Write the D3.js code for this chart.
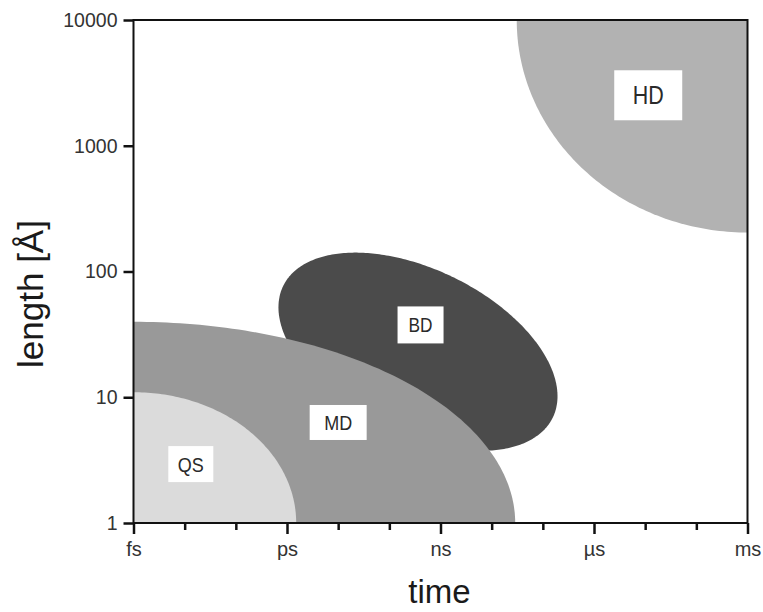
<!DOCTYPE html>
<html>
<head>
<meta charset="utf-8">
<script src="https://cdn.jsdelivr.net/npm/d3@7"></script>
<style>
  html, body { margin: 0; padding: 0; background: #fff; }
  svg { display: block; font-family: "Liberation Sans", Arial, sans-serif; }
</style>
</head>
<body>
<svg id="chart" width="763" height="612"></svg>
<script>
// ---------------- data ----------------
// x axis: time in seconds (log), y axis: length in Angstrom (log)
const timeTickValues = [1e-15, 1e-14, 1e-13, 1e-12, 1e-11, 1e-10, 1e-9, 1e-8, 1e-7, 1e-6, 1e-5, 1e-4, 1e-3];
const timeTickLabels = ["fs", "", "", "ps", "", "", "ns", "", "", "µs", "", "", "ms"];
const lengthTickValues = [1, 10, 100, 1000, 10000];
const lengthTickLabels = ["1", "10", "100", "1000", "10000"];

// simulation regions (drawn in this order: HD, BD, MD, QS)
const regionNames = ["HD", "BD", "MD", "QS"];
// ellipse centres (data units)
const regionCenterTime = [1e-3, Math.pow(10, -9.44), 1e-15, 1e-15];
const regionCenterLength = [10000, 23, 1, 1];
// ellipse semi-axis vectors in decades: major (time, length), minor (time, length)
const regionMajorTime = [4.51, 2.635, 7.46, 3.18];
const regionMajorLength = [0, -0.523, 0, 0];
const regionMinorTime = [0, -0.702, 0, 0];
const regionMinorLength = [1.69, -0.59, 1.60, 1.04];
// label anchor positions (data units)
const labelTime = [Math.pow(10, -4.94), Math.pow(10, -9.39), 1e-11, Math.pow(10, -13.88)];
const labelLength = [2520, 37.6, 6.3, 2.94];

// ---------------- styles ----------------
const regionFill = { HD: "#b2b2b2", BD: "#4b4b4b", MD: "#999999", QS: "#dbdbdb" };
const labelBox = { HD: [68, 50], BD: [46, 37], MD: [57, 35], QS: [45, 36] };
const labelFont = { HD: 25, BD: 21, MD: 21, QS: 21 };
const labelWidth = { HD: 31, BD: 24, MD: 28, QS: 26 };

// ---------------- layout ----------------
const svg = d3.select("#chart");
const plotLeft = 133.5, plotRight = 747.5, plotTop = 20, plotBottom = 523;

const x = d3.scaleLog().domain([1e-15, 1e-3]).range([plotLeft, plotRight]);
const y = d3.scaleLog().domain([1, 10000]).range([plotBottom, plotTop]);

svg.append("defs").append("clipPath").attr("id", "plotClip")
  .append("rect").attr("x", plotLeft).attr("y", plotTop)
  .attr("width", plotRight - plotLeft).attr("height", plotBottom - plotTop);

const gRegions = svg.append("g").attr("clip-path", "url(#plotClip)");

const line = d3.line().x(d => x(d[0])).y(d => y(d[1])).curve(d3.curveLinearClosed);

regionNames.forEach((name, i) => {
  const cx = Math.log10(regionCenterTime[i]);
  const cy = Math.log10(regionCenterLength[i]);
  const pts = d3.range(0, 360, 1).map(deg => {
    const t = deg * Math.PI / 180;
    const lx = cx + regionMajorTime[i] * Math.cos(t) + regionMinorTime[i] * Math.sin(t);
    const ly = cy + regionMajorLength[i] * Math.cos(t) + regionMinorLength[i] * Math.sin(t);
    return [Math.pow(10, lx), Math.pow(10, ly)];
  });
  gRegions.append("path").attr("d", line(pts)).attr("fill", regionFill[name]);
});

// labels
regionNames.forEach((name, i) => {
  const px = x(labelTime[i]), py = y(labelLength[i]);
  const [bw, bh] = labelBox[name];
  const g = svg.append("g");
  g.append("rect").attr("x", px - bw / 2).attr("y", py - bh / 2)
    .attr("width", bw).attr("height", bh).attr("fill", "#ffffff");
  g.append("text").attr("x", px).attr("y", py)
    .attr("text-anchor", "middle").attr("dominant-baseline", "central")
    .attr("font-size", labelFont[name]).attr("fill", "#2a2a2a")
    .attr("textLength", labelWidth[name]).attr("lengthAdjust", "spacingAndGlyphs")
    .text(name);
});

// frame
svg.append("rect").attr("x", plotLeft).attr("y", plotTop)
  .attr("width", plotRight - plotLeft).attr("height", plotBottom - plotTop)
  .attr("fill", "none").attr("stroke", "#111").attr("stroke-width", 2);

// x axis
const xAxis = d3.axisBottom(x).tickValues(timeTickValues)
  .tickFormat((d, i) => timeTickLabels[i]).tickSize(11).tickPadding(8);
const gx = svg.append("g").attr("transform", `translate(0,${plotBottom})`).call(xAxis);
gx.select(".domain").remove();
gx.selectAll(".tick line").attr("stroke", "#111").attr("stroke-width", 2.5)
  .attr("y2", (d, i) => timeTickLabels[i] ? 11 : 7);
gx.selectAll(".tick text").attr("font-size", 20).attr("fill", "#333")
  .attr("font-family", "Liberation Sans, Arial, sans-serif");

// y axis
const yAxis = d3.axisLeft(y).tickValues(lengthTickValues)
  .tickFormat((d, i) => lengthTickLabels[i]).tickSize(10).tickPadding(6);
const gy = svg.append("g").attr("transform", `translate(${plotLeft},0)`).call(yAxis);
gy.select(".domain").remove();
gy.selectAll(".tick line").attr("stroke", "#111").attr("stroke-width", 2.5);
gy.selectAll(".tick text").attr("font-size", 19.5).attr("fill", "#333")
  .attr("font-family", "Liberation Sans, Arial, sans-serif");

// axis titles
svg.append("text").attr("x", (plotLeft + plotRight) / 2 - 1).attr("y", 603)
  .attr("text-anchor", "middle").attr("font-size", 33).attr("fill", "#1a1a1a")
  .text("time");
svg.append("text").attr("transform", `translate(43,294) rotate(-90)`)
  .attr("text-anchor", "middle").attr("font-size", 35).attr("fill", "#1a1a1a")
  .text("length [Å]");
</script>
</body>
</html>
